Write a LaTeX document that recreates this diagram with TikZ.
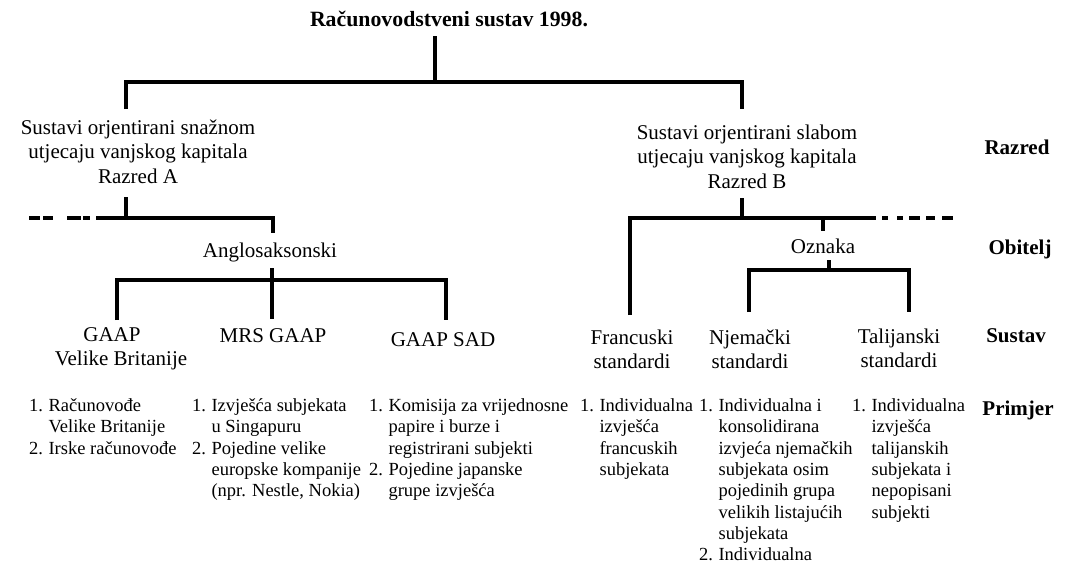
\documentclass[tikz,border=0pt]{standalone}
\usepackage{fontspec}
\setmainfont{Liberation Serif}
\newcommand\mytabc[1]{\begin{tabular}[t]{@{}c@{}}#1\end{tabular}}
\newcommand\mylist[1]{\begin{tabular}[t]{@{}l@{\hspace{5.5pt}}l@{}}#1\end{tabular}}
\begin{document}
\begin{tikzpicture}[x=1pt,y=-1pt,
  big/.style={font=\fontsize{21}{24.5}\selectfont, inner sep=0pt, anchor=base},
  lst/.style={font=\fontsize{18.5}{21.3}\selectfont, inner sep=0pt, anchor=base west},
  lbl/.style={font=\fontsize{21}{24}\selectfont\bfseries, inner sep=0pt, anchor=base},
  ttl/.style={font=\fontsize{21.8}{24}\selectfont\bfseries, inner sep=0pt, anchor=base},
  ln/.style={line width=3.8pt, line join=miter},
  dshL/.style={line width=3.8pt, dash pattern=on 11pt off 3pt on 10pt off 14pt on 14pt off 2pt on 7pt off 6pt},
  dshR/.style={line width=3.8pt, dash pattern=on 6pt off 9pt on 6pt off 6pt on 11pt off 6pt on 9pt off 7pt on 11pt off 20pt}]
\fill[white] (0,0) rectangle (1073,565);
\useasboundingbox (0,0) rectangle (1073,565);

% texts
\node[ttl] (title) at (449,26) {Računovodstveni sustav 1998.};
\node[big] (clA) at (138,134) {\mytabc{Sustavi orjentirani snažnom\\utjecaju vanjskog kapitala\\Razred A}};
\node[big] (clB) at (747,139) {\mytabc{Sustavi orjentirani slabom\\utjecaju vanjskog kapitala\\Razred B}};
\node[big] (ang) at (270,257) {Anglosaksonski};
\node[big] (ozn) at (823,253) {Oznaka};
\node[big] (gb) at (121,341) {\mytabc{GAAP\kern18pt\\Velike Britanije}};
\node[big] (mrs) at (273,342) {MRS GAAP};
\node[big] (sad) at (443,346) {GAAP SAD};
\node[big] (fr) at (632,344) {\mytabc{Francuski\\standardi}};
\node[big] (nj) at (750,344) {\mytabc{Njemački\\standardi}};
\node[big] (it) at (899,343) {\mytabc{Talijanski\\standardi}};

\node[lbl] (lraz) at (1017,154) {Razred};
\node[lbl] (lobi) at (1020,254) {Obitelj};
\node[lbl] (lsus) at (1016,342) {Sustav};
\node[lbl] (lpri) at (1018,415) {Primjer};

\node[lst] (p1) at (29,411.5) {\mylist{1. & Računovođe\\ & Velike Britanije\\ 2. & Irske računovođe}};
\node[lst] (p2) at (192,411.5) {\mylist{1. & Izvješća subjekata\\ & u Singapuru\\ 2. & Pojedine velike\\ & europske kompanije\\ & (npr. Nestle, Nokia)}};
\node[lst] (p3) at (369,411.5) {\mylist{1. & Komisija za vrijednosne\\ & papire i burze i\\ & registrirani subjekti\\ 2. & Pojedine japanske\\ & grupe izvješća}};
\node[lst] (p4) at (580,411.5) {\mylist{1. & Individualna\\ & izvješća\\ & francuskih\\ & subjekata}};
\node[lst] (p5) at (699,411.5) {\mylist{1. & Individualna i\\ & konsolidirana\\ & izvjeća njemačkih\\ & subjekata osim\\ & pojedinih grupa\\ & velikih listajućih\\ & subjekata\\ 2. & Individualna}};
\node[lst] (p6) at (852,411.5) {\mylist{1. & Individualna\\ & izvješća\\ & talijanskih\\ & subjekata i\\ & nepopisani\\ & subjekti}};

% top level
\coordinate (t0) at (435,36);
\coordinate (t1) at (435,82);
\coordinate (aT) at (126,82);
\coordinate (aB) at (126,109);
\coordinate (bT) at (742,82);
\coordinate (bB) at (742,109);
\draw[ln] (t0) -- (t1);
\draw[ln] (aB) -- (aT) -- (bT) -- (bB);

% class A -> family
\coordinate (a1) at (126,197);
\coordinate (a2) at (126,218);
\coordinate (aD) at (29,218);
\coordinate (aL) at (96,218);
\coordinate (aR) at (273,218);
\coordinate (aR2) at (273,233);
\draw[ln] (a1) -- (a2);
\draw[ln] (aL) -- (aR) -- (aR2);
\draw[dshL] (aD) -- (aL);

% Anglosaksonski -> systems
\coordinate (g0) at (272,268);
\coordinate (g1) at (272,280);
\coordinate (g1b) at (272,319);
\coordinate (gL) at (117,280);
\coordinate (gLb) at (117,320);
\coordinate (gR) at (446,280);
\coordinate (gRb) at (446,320);
\draw[ln] (g0) -- (g1b);
\draw[ln] (gLb) -- (gL) -- (gR) -- (gRb);

% class B -> family
\coordinate (b1) at (742,198);
\coordinate (b2) at (742,218);
\coordinate (bL) at (630,218);
\coordinate (bLb) at (630,315);
\coordinate (bR) at (876,218);
\coordinate (bD1) at (882,218);
\coordinate (bD2) at (954,218);
\coordinate (bt1) at (823,218);
\coordinate (bt2) at (823,231);
\draw[ln] (b1) -- (b2);
\draw[ln] (bLb) -- (bL) -- (bR);
\draw[ln] (bt1) -- (bt2);
\draw[dshR] (bD1) -- (bD2);

% Oznaka -> systems
\coordinate (o0) at (829,260);
\coordinate (o1) at (829,270);
\coordinate (oL) at (749,270);
\coordinate (oLb) at (749,312);
\coordinate (oR) at (909,270);
\coordinate (oRb) at (909,312);
\draw[ln] (o0) -- (o1);
\draw[ln] (oLb) -- (oL) -- (oR) -- (oRb);
\end{tikzpicture}
\end{document}
